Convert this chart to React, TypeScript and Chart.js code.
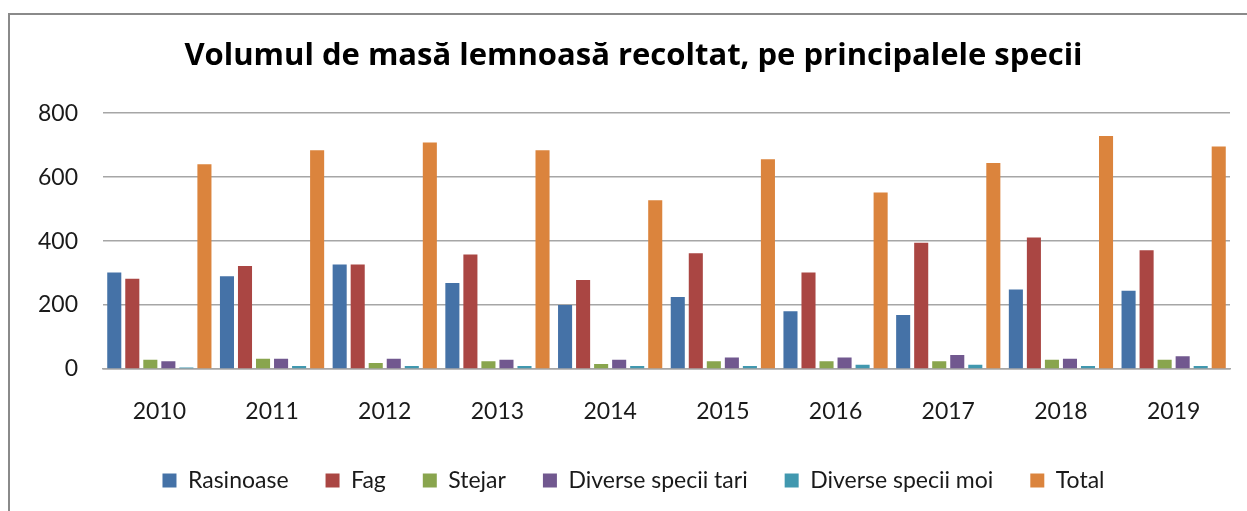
import React, { useEffect, useRef } from "react";
import { Chart, registerables } from "chart.js";

Chart.register(...registerables);

const years = ["2010", "2011", "2012", "2013", "2014", "2015", "2016", "2017", "2018", "2019"];
const rasinoase = [302, 290, 327, 269, 200, 225, 181, 169, 249, 245];
const fag = [282, 322, 327, 358, 278, 362, 302, 395, 411, 371];
const stejar = [29, 32, 19, 24, 16, 24, 24, 24, 29, 29];
const speciiTari = [24, 32, 32, 29, 29, 36, 36, 44, 32, 40];
const speciiMoi = [5, 9, 9, 9, 9, 9, 13, 13, 9, 9];
const total = [640, 684, 708, 684, 528, 656, 552, 644, 729, 696];

const seriesNames = ["Rasinoase", "Fag", "Stejar", "Diverse specii tari", "Diverse specii moi", "Total"];
const seriesColors = ["#4572A7", "#AA4643", "#89A54E", "#71588F", "#4198AF", "#DB843D"];
const yTicks = [0, 200, 400, 600, 800];

const FONT = "Lato, 'Open Sans', sans-serif";
const TITLE_FONT = "'Open Sans', Lato, sans-serif";

export default function App() {
  const ref = useRef<HTMLCanvasElement>(null);

  useEffect(() => {
    if (!ref.current) return;
    const seriesValues = [rasinoase, fag, stejar, speciiTari, speciiMoi, total];
    const chart = new Chart(ref.current, {
      type: "bar",
      data: {
        labels: years,
        datasets: seriesNames.map((name, i) => ({
          label: name,
          data: seriesValues[i],
          backgroundColor: seriesColors[i],
          borderWidth: 0,
          categoryPercentage: 0.96,
          barPercentage: 0.78,
        })),
      },
      options: {
        responsive: false,
        animation: false,
        devicePixelRatio: 1,
        layout: { padding: { left: 37, right: 17, top: 0, bottom: 9 } },
        plugins: {
          title: {
            display: true,
            text: "Volumul de masă lemnoasă recoltat, pe principalele specii",
            color: "#000",
            font: { family: TITLE_FONT, size: 31, weight: "bold" },
            padding: { top: 38, bottom: 38 },
          },
          legend: {
            display: true,
            position: "bottom",
            fullSize: true,
            labels: {
              boxWidth: 14,
              boxHeight: 14,
              padding: 37,
              color: "#1a1a1a",
              font: { family: FONT, size: 23 },
            },
          },
          tooltip: { enabled: false },
        },
        scales: {
          x: {
            grid: { display: false, drawTicks: false },
            border: { display: true, color: "#a6a6a6", width: 1.5 },
            ticks: { color: "#1a1a1a", font: { family: FONT, size: 23 }, padding: 29 },
            afterFit: (s: any) => {
              s.height = 63;
            },
          },
          y: {
            min: 0,
            max: 800,
            afterBuildTicks: (s: any) => {
              s.ticks = yTicks.map((v) => ({ value: v }));
            },
            grid: { color: "#a6a6a6", lineWidth: 1.5, drawTicks: false },
            border: { display: false },
            ticks: { color: "#1a1a1a", font: { family: FONT, size: 23 }, padding: 25 },
            afterFit: (s: any) => {
              s.width = 66;
            },
          },
        },
      },
    });
    return () => chart.destroy();
  }, []);

  return (
    <div style={{ position: "absolute", left: 0, top: 0, width: 1247, height: 511, overflow: "hidden", background: "#fff" }}>
      <canvas ref={ref} width={1247} height={511} style={{ position: "absolute", left: 0, top: 0 }} />
      <div
        style={{
          position: "absolute",
          left: 8,
          top: 13,
          width: 1300,
          height: 600,
          border: "2px solid #8a8a8a",
          pointerEvents: "none",
        }}
      />
    </div>
  );
}
